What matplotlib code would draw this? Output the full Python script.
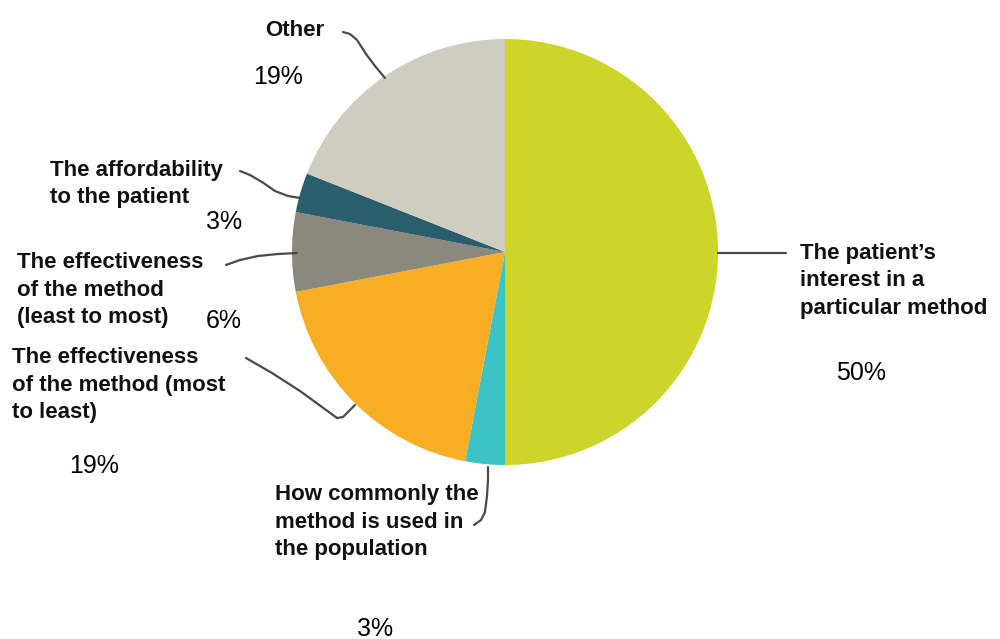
import matplotlib
matplotlib.use("Agg")
import matplotlib.pyplot as plt
from matplotlib import font_manager

labels = ["The patient\u2019s\ninterest in a\nparticular method",
          "How commonly the\nmethod is used in\nthe population",
          "The effectiveness\nof the method (most\nto least)",
          "The effectiveness\nof the method\n(least to most)",
          "The affordability\nto the patient",
          "Other"]
values = [50, 3, 19, 6, 3, 19]
pct_labels = ["50%", "3%", "19%", "6%", "3%", "19%"]
colors = ["#CDD52A", "#3CC3C7", "#F7AE22", "#8B897B", "#2B5E6C", "#CFCDBF"]

W, H = 1000, 639
fig = plt.figure(figsize=(W / 100, H / 100), dpi=100)
ax = fig.add_axes([0, 0, 1, 1])

def Y(y):
    return H - y

cx, cy, r = 505, 252, 213
ax.pie(values, colors=colors, startangle=90, counterclock=False,
       center=(cx, Y(cy)), radius=r, frame=True,
       wedgeprops=dict(linewidth=0))
ax.set_xlim(0, W)
ax.set_ylim(0, H)
ax.set_aspect("equal")
ax.axis("off")

names = set(f.name for f in font_manager.fontManager.ttflist)
narrow = "Liberation Sans Narrow" if "Liberation Sans Narrow" in names else "Liberation Sans"

label_pos = [(800, 281, "left"), (275, 522, "left"), (12, 385, "left"),
             (17, 290, "left"), (50, 184, "left"), (265, 31, "left")]
pct_pos = [(861, 373), (375, 629), (94, 466), (224, 321), (224, 222), (278, 77)]

for lab, (x, y, ha) in zip(labels, label_pos):
    ax.text(x, Y(y), lab, ha=ha, va="center", fontsize=16, fontweight="bold",
            family=["Liberation Sans", "DejaVu Sans"], color="#111111",
            linespacing=1.38)
for p, (x, y) in zip(pct_labels, pct_pos):
    ax.text(x, Y(y), p, ha="center", va="center", fontsize=18,
            family=[narrow, "DejaVu Sans"], color="#000000")

lc = "#4a4a4a"
leaders = [
    [(718, 253), (786, 253)],
    [(488, 467), (488, 480), (487, 496), (485, 512), (481, 520), (474, 525)],
    [(246, 358), (272, 373), (300, 391), (322, 407), (337, 418), (343, 417), (355, 405)],
    [(226, 265), (240, 260), (258, 256), (278, 254), (297, 253)],
    [(240, 171), (250, 175), (262, 182), (275, 191), (288, 196), (300, 198)],
    [(343, 32), (350, 34), (357, 40), (366, 54), (375, 66), (385, 78)],
]
for pts in leaders:
    xs = [p[0] for p in pts]
    ys = [Y(p[1]) for p in pts]
    ax.plot(xs, ys, color=lc, lw=1.6, solid_capstyle="round", solid_joinstyle="round")

fig.savefig("out.png", dpi=100)
